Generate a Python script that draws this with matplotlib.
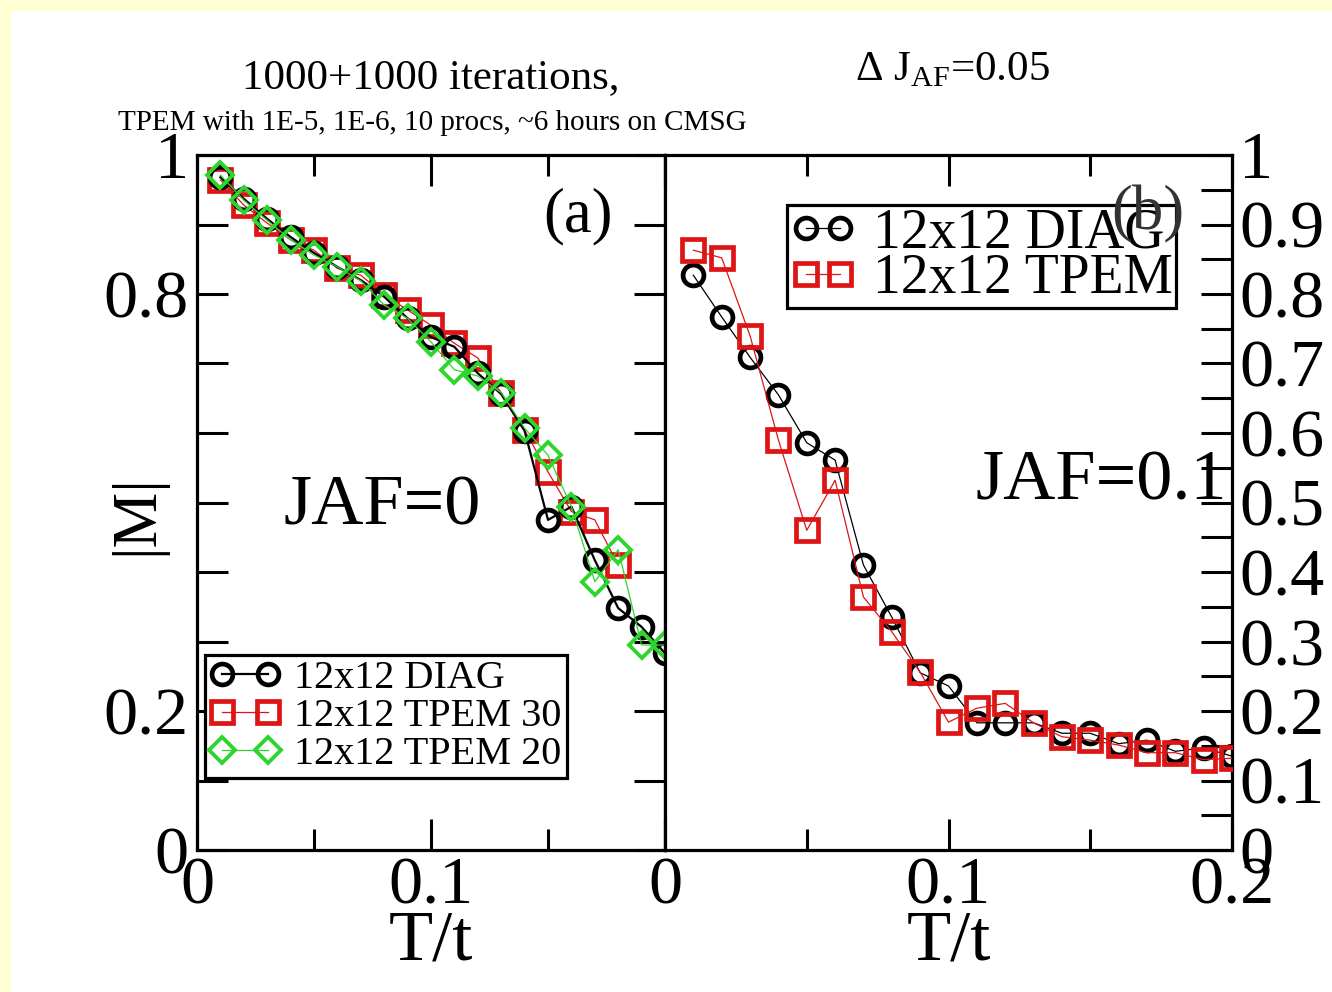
import matplotlib
matplotlib.use('Agg')
import matplotlib.pyplot as plt
import numpy as np
from matplotlib.patches import Rectangle

plt.rcParams['font.family'] = ['Liberation Serif', 'DejaVu Serif']
plt.rcParams['mathtext.fontset'] = 'custom'
plt.rcParams['mathtext.rm'] = 'Liberation Serif'

# panel (a): JAF = 0
T_a = [0.01, 0.02, 0.03, 0.04, 0.05, 0.06, 0.07, 0.08, 0.09, 0.10,
       0.11, 0.12, 0.13, 0.14, 0.15, 0.16, 0.17, 0.18, 0.19, 0.20]
diag_a = [0.968, 0.937, 0.908, 0.882, 0.859, 0.839, 0.820, 0.796, 0.765, 0.738,
          0.724, 0.686, 0.656, 0.603, 0.475, 0.494, 0.417, 0.348, 0.321, 0.283]
T_tpem30 = T_a[:18]
tpem30_a = [0.964, 0.928, 0.902, 0.878, 0.863, 0.837, 0.827, 0.799, 0.777, 0.755,
            0.729, 0.708, 0.658, 0.604, 0.544, 0.487, 0.475, 0.410]
tpem20_a = [0.971, 0.935, 0.906, 0.878, 0.856, 0.839, 0.819, 0.784, 0.765, 0.731,
            0.691, 0.682, 0.658, 0.607, 0.568, 0.494, 0.386, 0.432, 0.295, 0.295]

# panel (b): JAF = 0.1
T_b = T_a
diag_b = [0.827, 0.767, 0.709, 0.655, 0.586, 0.561, 0.410, 0.335, 0.255, 0.236,
          0.183, 0.183, 0.183, 0.168, 0.168, 0.153, 0.158, 0.142, 0.147, 0.135]
tpem_b = [0.863, 0.852, 0.740, 0.590, 0.460, 0.532, 0.364, 0.314, 0.256, 0.184,
          0.204, 0.211, 0.183, 0.163, 0.158, 0.151, 0.140, 0.140, 0.130, 0.132]

left_ylabels = ['0', '', '0.2', '', '', '', '', '', '0.8', '', '1']
right_ylabels = ['0', '0.1', '0.2', '0.3', '0.4', '0.5', '0.6', '0.7', '0.8', '0.9', '1']

RED = '#dd1515'
GREEN = '#2fd52f'

W, H = 1332, 992
fig = plt.figure(figsize=(W / 100, H / 100), dpi=100, facecolor='#ffffd2')
# white page inside the yellow border
fig.patches.append(Rectangle((11 / W, 0), 1, 1 - 11 / H, transform=fig.transFigure,
                             facecolor='white', edgecolor='none', zorder=-5))

ax1 = fig.add_axes([197 / W, 1 - 850 / H, 468 / W, 695 / H])
ax2 = fig.add_axes([665 / W, 1 - 850 / H, 567 / W, 695 / H])

for ax in (ax1, ax2):
    ax.set_xlim(0, 0.2)
    ax.set_ylim(0, 1)
    for s in ax.spines.values():
        s.set_linewidth(2.3)
    ax.set_xticks([0, 0.1, 0.2])
    ax.set_xticks([0.05, 0.15], minor=True)
    ax.tick_params(axis='x', which='major', direction='in', top=True, bottom=True,
                   length=22, width=2.2, labelsize=49, pad=5)
    ax.tick_params(axis='x', which='minor', direction='in', top=True, bottom=True,
                   length=15, width=2.2)
    ax.set_xlabel('T/t', fontsize=52, labelpad=-6)

ax1.set_xticklabels(['0', '0.1', ''])
ax2.set_xticklabels(['0', '0.1', '0.2'])

# left panel y axis
ax1.set_yticks(np.linspace(0, 1, 11))
ax1.set_yticklabels(left_ylabels)
ax1.tick_params(axis='y', direction='in', left=True, right=True, length=22, width=2.2,
                labelsize=49, pad=6)

# right panel y axis, labels on the right
ax2.set_yticks(np.linspace(0, 1, 11))
ax2.set_yticks(np.arange(0.05, 1.0, 0.1), minor=True)
ax2.set_yticklabels(right_ylabels)
ax2.tick_params(axis='y', which='both', direction='in', left=False, right=True,
                labelleft=False, labelright=True, length=22, width=2.2, labelsize=49, pad=5)

# panel (a) curves
ax1.plot(T_a, diag_a, color='black', lw=1.6, marker='o', ms=15, mfc='none', mec='black',
         mew=3.4, label='12x12 DIAG', zorder=3)
ax1.plot(T_tpem30, tpem30_a, color=RED, lw=0.9, marker='s', ms=16, mfc='none', mec=RED,
         mew=3.4, label='12x12 TPEM 30', zorder=2)
ax1.plot(T_a, tpem20_a, color=GREEN, lw=0.9, marker='D', ms=13, mfc='none', mec=GREEN,
         mew=2.8, label='12x12 TPEM 20', zorder=4)

# panel (b) curves
ax2.plot(T_b, diag_b, color='black', lw=0.9, marker='o', ms=15, mfc='none', mec='black',
         mew=3.4, label='12x12 DIAG', zorder=2)
ax2.plot(T_b, tpem_b, color=RED, lw=0.9, marker='s', ms=16, mfc='none', mec=RED,
         mew=3.4, label='12x12 TPEM', zorder=3)

leg1 = ax1.legend(loc='lower left', bbox_to_anchor=(0.017, 0.104), borderaxespad=0,
                  fontsize=29, numpoints=2, handlelength=1.75, handletextpad=0.35,
                  labelspacing=0.02, borderpad=0.12, fancybox=False, framealpha=1,
                  edgecolor='black')
leg1.get_frame().set_linewidth(2.3)

leg2 = ax2.legend(loc='upper left', bbox_to_anchor=(0.215, 0.928), borderaxespad=0,
                  fontsize=40, numpoints=2, handlelength=1.2, handletextpad=0.3,
                  labelspacing=-0.12, borderpad=0.05, fancybox=False, framealpha=1,
                  edgecolor='black')
leg2.get_frame().set_linewidth(2.3)

ax1.text(0.814, 0.911, '(a)', transform=ax1.transAxes, fontsize=45, ha='center', va='center')
ax2.text(0.852, 0.914, '(b)', transform=ax2.transAxes, fontsize=45, ha='center', va='center',
         color='#333333', zorder=10)
ax1.text(0.184, 0.468, 'JAF=0', transform=ax1.transAxes, fontsize=52, ha='left', va='baseline')
ax2.text(0.547, 0.504, 'JAF=0.1', transform=ax2.transAxes, fontsize=52, ha='left', va='baseline')

fig.text(137 / W, 1 - 515 / H, '|M|', rotation=90, fontsize=45, ha='center', va='center')
fig.text(431 / W, 1 - 88 / H, '1000+1000 iterations,', fontsize=31, ha='center', va='baseline')
fig.text(432 / W, 1 - 130 / H, 'TPEM with 1E-5, 1E-6, 10 procs, ~6 hours on CMSG',
         fontsize=21, ha='center', va='baseline')
fig.text(855 / W, 1 - 80 / H, r'Δ J$_{\mathrm{AF}}$=0.05', fontsize=31, ha='left', va='baseline')

fig.savefig('out.png', dpi=100, facecolor=fig.get_facecolor())
